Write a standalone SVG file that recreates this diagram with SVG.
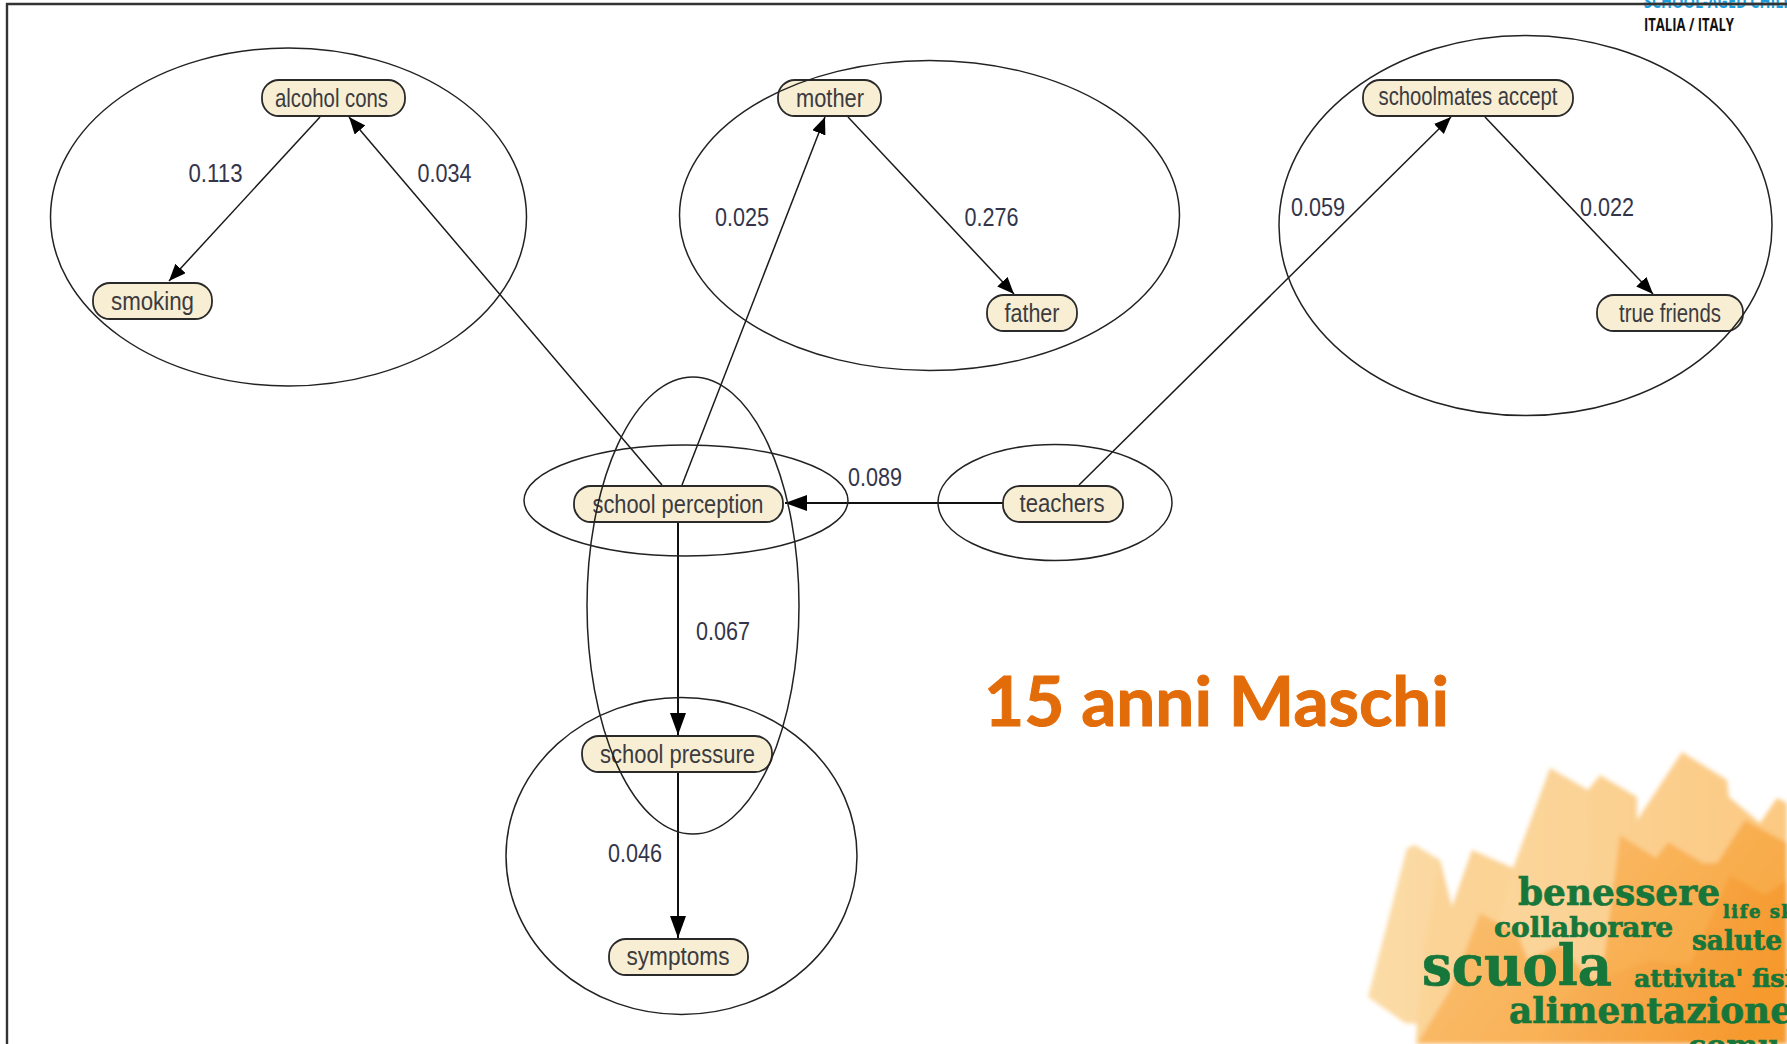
<svg xmlns="http://www.w3.org/2000/svg" width="1787" height="1044" viewBox="0 0 1787 1044">
<style>
.grp{fill:none;stroke:#222;stroke-width:1.5}
.edge{fill:none;stroke:#1a1a1a;stroke-width:1.5;marker-end:url(#arrow)}
.straight{fill:none;stroke:#111;stroke-width:2;marker-end:url(#arrowL)}
.box{fill:#f8eed3;stroke:#2a2a2a;stroke-width:1.8}
.lbl{font-family:"Liberation Sans",Arial,sans-serif;font-size:25px;fill:#3b3b40;text-anchor:middle}
.num{font-family:"Liberation Sans",Arial,sans-serif;font-size:26px;fill:#33354a;text-anchor:middle}
.word{font-family:"DejaVu Serif",serif;font-weight:700;fill:#17763a;stroke:#17763a;stroke-width:.7}
.logo{font-family:"Open Sans",sans-serif;font-weight:700}
</style>
<defs>
<marker id="arrow" markerUnits="userSpaceOnUse" markerWidth="20" markerHeight="16" refX="17" refY="7" orient="auto"><path d="M0 0L17 7L0 14Z" fill="#000"/></marker>
<marker id="arrowL" markerUnits="userSpaceOnUse" markerWidth="24" markerHeight="18" refX="22" refY="8" orient="auto"><path d="M0 0L22 8L0 16Z" fill="#000"/></marker>
<filter id="soft" x="-5%" y="-5%" width="110%" height="110%"><feGaussianBlur stdDeviation="2.2"/></filter>
<linearGradient id="o1" x1="0" x2="1" y1="0" y2="0"><stop offset="0" stop-color="#fbdba6"/><stop offset="1" stop-color="#fcc982"/></linearGradient>
<linearGradient id="o2" x1="0" x2="1" y1="0" y2="0.5"><stop offset="0" stop-color="#fac47c"/><stop offset="1" stop-color="#f8a741"/></linearGradient>
<linearGradient id="o3" x1="0" x2="1" y1="0" y2="0.3"><stop offset="0" stop-color="#f9b765"/><stop offset="1" stop-color="#f69a2f"/></linearGradient>
</defs>
<rect width="1787" height="1044" fill="#fff"/>

<g id="decoration" filter="url(#soft)">
<path fill="url(#o1)" d="M1368 997L1407 848L1415 845L1440 860L1452 907L1472 850L1513 868L1550 768L1588 790L1600 775L1637 797L1637 820L1682 752L1727 780L1729 797L1760 823L1777 798L1787 803V1044H1416L1417 1024L1405 1023Z"/>
<path fill="#fad49a" d="M1515 880L1550 768L1588 790L1590 860L1560 950L1530 950Z" opacity=".6"/>
<path fill="#fbd193" d="M1440 860L1452 907L1472 850L1513 868L1490 960L1440 1044L1416 1044L1425 940Z" opacity=".7"/>
<path fill="url(#o2)" d="M1417 1044L1450 990L1480 913L1517 933L1528 960L1560 945L1600 990L1620 835L1656 858L1668 842L1703 863L1717 863L1745 820L1787 843V1044Z"/>
<path fill="url(#o3)" d="M1540 1044L1570 990L1650 960L1690 965L1730 875L1765 895L1787 880V1044Z"/>
</g>
<g id="wordcloud">
<text class="word" x="1518" y="905" font-size="38" textLength="202" lengthAdjust="spacingAndGlyphs">benessere</text>
<text class="word" x="1723" y="918" font-size="18" letter-spacing="1.5">life sk</text>
<text class="word" x="1494" y="937" font-size="28" textLength="179" lengthAdjust="spacingAndGlyphs">collaborare</text>
<text class="word" x="1692" y="950" font-size="27" textLength="90" lengthAdjust="spacingAndGlyphs">salute</text>
<text class="word" x="1422" y="985" font-size="56" textLength="190" lengthAdjust="spacingAndGlyphs" stroke-width="1.5">scuola</text>
<text class="word" x="1634" y="987" font-size="24" textLength="160" lengthAdjust="spacingAndGlyphs">attivita' fisi</text>
<text class="word" x="1509" y="1023" font-size="35" textLength="284" lengthAdjust="spacingAndGlyphs">alimentazione</text>
<text class="word" x="1688" y="1056" font-size="30">comu</text>
</g>

<g id="frame" fill="none" stroke="#333" stroke-width="2.4">
<path d="M7 1044V4H1787"/>
</g>
<g id="logo">
<text class="logo" x="1644" y="8" font-size="18" fill="#1b9fdc" textLength="150" lengthAdjust="spacingAndGlyphs">SCHOOL-AGED CHILD</text>
<text class="logo" x="1644" y="30.500" font-size="17" fill="#111" textLength="90" lengthAdjust="spacingAndGlyphs">ITALIA / ITALY</text>
<path d="M1644 4H1787" stroke="#333" stroke-width="2.4"/>
</g>

<g id="connectors">
<path class="edge" d="M320 117L169 281"/>
<path class="edge" d="M662 485L349 117"/>
<path class="edge" d="M682 485L825 117"/>
<path class="edge" d="M848 117L1014 294"/>
<path class="edge" d="M1079 485L1451 117"/>
<path class="edge" d="M1485 117L1653 294"/>
<path class="straight" d="M1003 503L785 503"/>
<path class="straight" d="M678 522L678 735"/>
<path class="straight" d="M678 772L678 938"/>
</g>

<g id="edge-labels">
<text class="num" x="215.500" y="182" textLength="54" lengthAdjust="spacingAndGlyphs">0.113</text>
<text class="num" x="444.500" y="182" textLength="54" lengthAdjust="spacingAndGlyphs">0.034</text>
<text class="num" x="742" y="226" textLength="54" lengthAdjust="spacingAndGlyphs">0.025</text>
<text class="num" x="991.500" y="226" textLength="54" lengthAdjust="spacingAndGlyphs">0.276</text>
<text class="num" x="1318" y="216" textLength="54" lengthAdjust="spacingAndGlyphs">0.059</text>
<text class="num" x="1607" y="216" textLength="54" lengthAdjust="spacingAndGlyphs">0.022</text>
<text class="num" x="875" y="486" textLength="54" lengthAdjust="spacingAndGlyphs">0.089</text>
<text class="num" x="723" y="640" textLength="54" lengthAdjust="spacingAndGlyphs">0.067</text>
<text class="num" x="635" y="862" textLength="54" lengthAdjust="spacingAndGlyphs">0.046</text>
</g>

<g id="n-alcohol"><rect class="box" x="262" y="80" width="143" height="36" rx="17"/><text class="lbl" x="331.500" y="107" textLength="113" lengthAdjust="spacingAndGlyphs">alcohol cons</text></g>
<g id="n-smoking"><rect class="box" x="93" y="283" width="119" height="36" rx="17"/><text class="lbl" x="152.500" y="310" textLength="83" lengthAdjust="spacingAndGlyphs">smoking</text></g>
<g id="n-mother"><rect class="box" x="778" y="80" width="103" height="36" rx="17"/><text class="lbl" x="830" y="107" textLength="68" lengthAdjust="spacingAndGlyphs">mother</text></g>
<g id="n-father"><rect class="box" x="987" y="295" width="90" height="36" rx="17"/><text class="lbl" x="1032" y="322" textLength="55" lengthAdjust="spacingAndGlyphs">father</text></g>
<g id="n-schoolmates"><rect class="box" x="1363" y="80" width="210" height="36" rx="17"/><text class="lbl" x="1468" y="105" textLength="179" lengthAdjust="spacingAndGlyphs">schoolmates accept</text></g>
<g id="n-truefriends"><rect class="box" x="1597" y="295" width="146" height="36" rx="17"/><text class="lbl" x="1670" y="322" textLength="102" lengthAdjust="spacingAndGlyphs">true friends</text></g>
<g id="n-perception"><rect class="box" x="574" y="486" width="209" height="36" rx="17"/><text class="lbl" x="678" y="513" textLength="171" lengthAdjust="spacingAndGlyphs">school perception</text></g>
<g id="n-teachers"><rect class="box" x="1003" y="486" width="120" height="36" rx="17"/><text class="lbl" x="1062" y="512" textLength="85" lengthAdjust="spacingAndGlyphs">teachers</text></g>
<g id="n-pressure"><rect class="box" x="582" y="736" width="190" height="36" rx="17"/><text class="lbl" x="677.500" y="763" textLength="155" lengthAdjust="spacingAndGlyphs">school pressure</text></g>
<g id="n-symptoms"><rect class="box" x="609" y="939" width="139" height="36" rx="17"/><text class="lbl" x="678" y="965" textLength="103" lengthAdjust="spacingAndGlyphs">symptoms</text></g>

<g id="groups">
<ellipse class="grp" cx="288.500" cy="217" rx="238" ry="169"/>
<ellipse class="grp" cx="929.500" cy="215.500" rx="250" ry="155"/>
<ellipse class="grp" cx="1525.500" cy="225.500" rx="246.500" ry="190"/>
<ellipse class="grp" cx="686" cy="500.500" rx="162" ry="55.500"/>
<ellipse class="grp" cx="1055" cy="502.500" rx="117" ry="58"/>
<ellipse class="grp" cx="693" cy="605.500" rx="106" ry="228.500"/>
<ellipse class="grp" cx="681.500" cy="856" rx="175.500" ry="158.500"/>
</g>

<text id="title" x="984" y="726" font-family="Lato,'Open Sans',sans-serif" font-weight="700" font-size="68" fill="#e36c0a" stroke="#e36c0a" stroke-width="1" textLength="465" lengthAdjust="spacingAndGlyphs">15 anni Maschi</text>
</svg>
